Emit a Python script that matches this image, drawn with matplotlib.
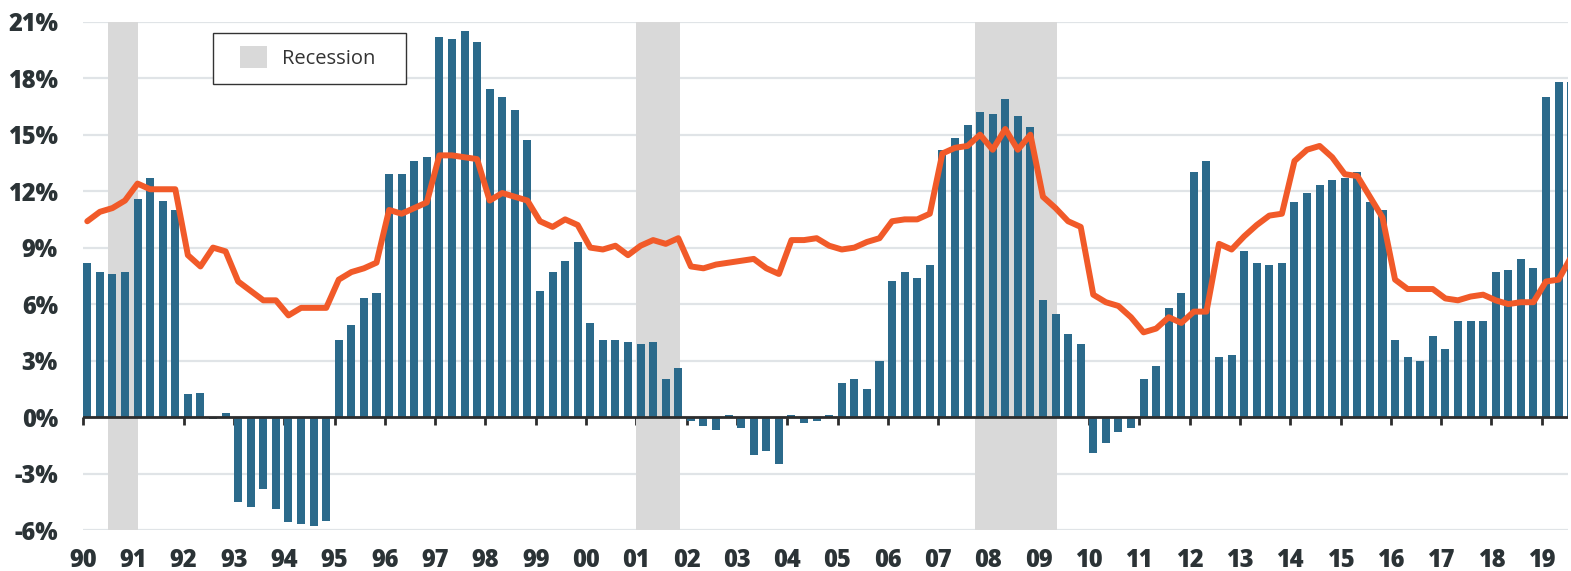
import numpy as np
import matplotlib
matplotlib.use("Agg")
import matplotlib.pyplot as plt
from matplotlib.patches import Rectangle

# quarterly data, 1990 Q1 .. 2019 Q3
start_year = 1990
bar_values = [
    8.2, 7.7, 7.6, 7.7,        # 90
    11.6, 12.7, 11.5, 11.0,    # 91
    1.2, 1.3, -0.1, 0.2,       # 92
    -4.5, -4.8, -3.8, -4.9,    # 93
    -5.6, -5.7, -5.8, -5.5,    # 94
    4.1, 4.9, 6.3, 6.6,        # 95
    12.9, 12.9, 13.6, 13.8,    # 96
    20.2, 20.1, 20.5, 19.9,    # 97
    17.4, 17.0, 16.3, 14.7,    # 98
    6.7, 7.7, 8.3, 9.3,        # 99
    5.0, 4.1, 4.1, 4.0,        # 00
    3.9, 4.0, 2.0, 2.6,        # 01
    -0.2, -0.5, -0.7, 0.1,     # 02
    -0.6, -2.0, -1.8, -2.5,    # 03
    0.1, -0.3, -0.2, 0.1,      # 04
    1.8, 2.0, 1.5, 3.0,        # 05
    7.2, 7.7, 7.4, 8.1,        # 06
    14.2, 14.8, 15.5, 16.2,    # 07
    16.1, 16.9, 16.0, 15.4,    # 08
    6.2, 5.5, 4.4, 3.9,        # 09
    -1.9, -1.4, -0.8, -0.6,    # 10
    2.0, 2.7, 5.8, 6.6,        # 11
    13.0, 13.6, 3.2, 3.3,      # 12
    8.8, 8.2, 8.1, 8.2,        # 13
    11.4, 11.9, 12.3, 12.6,    # 14
    12.7, 13.0, 11.4, 11.0,    # 15
    4.1, 3.2, 3.0, 4.3,        # 16
    3.6, 5.1, 5.1, 5.1,        # 17
    7.7, 7.8, 8.4, 7.9,        # 18
    17.0, 17.8, 17.8,          # 19
]
line_values = [
    10.4, 10.9, 11.1, 11.5,
    12.4, 12.1, 12.1, 12.1,
    8.6, 8.0, 9.0, 8.8,
    7.2, 6.7, 6.2, 6.2,
    5.4, 5.8, 5.8, 5.8,
    7.3, 7.7, 7.9, 8.2,
    11.0, 10.8, 11.1, 11.4,
    13.9, 13.9, 13.8, 13.7,
    11.5, 11.9, 11.7, 11.5,
    10.4, 10.1, 10.5, 10.2,
    9.0, 8.9, 9.1, 8.6,
    9.1, 9.4, 9.2, 9.5,
    8.0, 7.9, 8.1, 8.2,
    8.3, 8.4, 7.9, 7.6,
    9.4, 9.4, 9.5, 9.1,
    8.9, 9.0, 9.3, 9.5,
    10.4, 10.5, 10.5, 10.8,
    14.0, 14.3, 14.4, 15.0,
    14.2, 15.3, 14.2, 15.0,
    11.7, 11.1, 10.4, 10.1,
    6.5, 6.1, 5.9, 5.3,
    4.5, 4.7, 5.3, 5.0,
    5.6, 5.6, 9.2, 8.9,
    9.6, 10.2, 10.7, 10.8,
    13.6, 14.2, 14.4, 13.8,
    12.9, 12.8, 11.7, 10.6,
    7.3, 6.8, 6.8, 6.8,
    6.3, 6.2, 6.4, 6.5,
    6.2, 6.0, 6.1, 6.1,
    7.2, 7.3, 8.5,
]
recessions = [(1990.5, 1991.1), (2001.0, 2001.87), (2007.73, 2009.36)]
years = list(range(1990, 2020))
y_ticks = list(range(-6, 22, 3))

bar_color = "#2b6a8b"
line_color = "#f15a29"
shade_color = "#d9d9d9"
text_color = "#2b3336"
W, H = 1571, 571

x = start_year + np.arange(len(bar_values)) * 0.25 + 0.085

fig = plt.figure(figsize=(W / 100, H / 100), dpi=100)
ax = fig.add_axes([83 / W, 1 - 530 / H, 1485 / W, (530 - 21.7) / H])

ymin, ymax = -6, 21
for a, b in recessions:
    ax.axvspan(a, b, color=shade_color, lw=0, zorder=1)

ax.bar(x, bar_values, width=0.16, color=bar_color, zorder=2)
ax.plot(x, line_values, color=line_color, lw=4.3, solid_joinstyle="round",
        solid_capstyle="round", zorder=5)
ax.axhline(0, color="#2d2d2d", lw=2.0, zorder=4)

ax.set_xlim(1990, 1990 + 1485 / 50.3)
ax.set_ylim(ymin, ymax)

ax.set_yticks(y_ticks)
ax.set_yticklabels([f"{v}%" for v in y_ticks])
ax.yaxis.grid(True, color="#e0e4e7", lw=1.6, zorder=0)
ax.set_axisbelow(True)
ax.tick_params(axis="y", length=0, pad=18, labelsize=17, labelcolor=text_color)

ax.set_xticks(years)
ax.set_xticklabels([f"{y % 100:02d}" for y in years])
ax.tick_params(axis="x", length=0, pad=13, labelsize=17, labelcolor=text_color)

for lab in ax.get_xticklabels() + ax.get_yticklabels():
    lab.set_fontfamily(["Open Sans", "DejaVu Sans"])
    lab.set_fontweight("heavy")

for s in ax.spines.values():
    s.set_visible(False)

# tick marks on the zero line
sec = ax.secondary_xaxis((0 - ymin) / (ymax - ymin))
sec.set_xticks(years)
sec.set_xticklabels([])
sec.tick_params(axis="x", length=6, width=2, color="#2d2d2d", direction="out")
sec.spines["bottom"].set_visible(False)

# legend box (pixel layout of the original)
def fx(px):
    return px / W

def fy(py):
    return 1 - py / H

fig.patches.append(Rectangle((fx(213), fy(84)), fx(406) - fx(213), fy(33) - fy(84),
                             transform=fig.transFigure, facecolor="white",
                             edgecolor="#333333", lw=1.0, zorder=6))
fig.patches.append(Rectangle((fx(240), fy(68)), fx(267) - fx(240), fy(46) - fy(68),
                             transform=fig.transFigure, facecolor=shade_color,
                             edgecolor="none", zorder=7))
fig.text(fx(282), fy(58.5), "Recession", ha="left", va="center", fontsize=14.5,
         color="#333333", family=["Open Sans", "DejaVu Sans"], zorder=7)

fig.savefig("out.png", dpi=100)
